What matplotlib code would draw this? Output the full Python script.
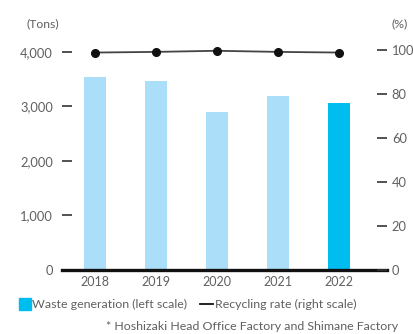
import numpy as np
import matplotlib.pyplot as plt

# Datos
anios = ['2018', '2019', '2020', '2021', '2022']
residuos = [3540, 3470, 2900, 3190, 3060]          # t
reciclaje = [98.8, 99.1, 99.6, 99.1, 98.8]         # %

AZUL_CLARO = '#abdff9'
AZUL = '#00bdf0'
GRIS = '#606060'

plt.rcParams['font.family'] = ['Lato', 'DejaVu Sans']

fig = plt.figure(figsize=(4.13, 3.34), dpi=100)
ax = fig.add_axes([62 / 413, 1 - 270 / 334, 325 / 413, 230 / 334])

x = np.arange(len(anios))
colores = [AZUL_CLARO] * (len(anios) - 1) + [AZUL]
ax.bar(x, residuos, width=0.36, color=colores, zorder=2)

ax.set_xlim(-0.54, 4.79)
ax.set_ylim(0, 4220)
ax.set_yticks([0, 1000, 2000, 3000, 4000])
ax.set_yticklabels(['0', '1,000', '2,000', '3,000', '4,000'])
ax.set_xticks(x)
ax.set_xticklabels(anios)

for s in ['top', 'left', 'right']:
    ax.spines[s].set_visible(False)
ax.spines['bottom'].set_linewidth(2.4)
ax.spines['bottom'].set_color('#111111')
ax.spines['bottom'].set_zorder(5)

ax.tick_params(axis='y', direction='in', length=7.2, width=1.2, color='#333333',
               pad=6.5, labelsize=9.3, labelcolor=GRIS)
ax.tick_params(axis='x', length=0, pad=4, labelsize=9, labelcolor=GRIS)

# Eje derecho: tasa de reciclaje
ax2 = ax.twinx()
ax2.plot(x, reciclaje, color='#444444', lw=1.3, marker='o', ms=5.5,
         mfc='#111111', mec='#111111', zorder=3)
ax2.set_ylim(0, 104.5)
ax2.set_yticks([0, 20, 40, 60, 80, 100])
for s in ['top', 'left', 'right', 'bottom']:
    ax2.spines[s].set_visible(False)
ax2.tick_params(axis='y', direction='in', length=7.2, width=1.2, color='#333333',
                pad=3.5, labelsize=9.3, labelcolor=GRIS)

fig.text(26 / 413, 1 - 24 / 334, '(Tons)', fontsize=8.8, color=GRIS, va='center', ha='left')
fig.text(391 / 413, 1 - 24 / 334, '(%)', fontsize=8.8, color=GRIS, va='center', ha='left')

# Leyenda
fig.patches.append(plt.Rectangle((19 / 413, 1 - 310 / 334), 12 / 413, 12 / 334,
                                 transform=fig.transFigure, color=AZUL, figure=fig))
fig.text(32 / 413, 1 - 304 / 334, 'Waste generation (left scale)', fontsize=8.9,
         color=GRIS, va='center', ha='left')
fig.lines.append(plt.Line2D([200 / 413, 213 / 413], [1 - 304 / 334, 1 - 304 / 334],
                            transform=fig.transFigure, color='#111111', lw=1.3))
fig.text(215 / 413, 1 - 304 / 334, 'Recycling rate (right scale)', fontsize=8.9,
         color=GRIS, va='center', ha='left')
fig.text(398 / 413, 1 - 326 / 334, '* Hoshizaki Head Office Factory and Shimane Factory',
         fontsize=8.9, color=GRIS, va='center', ha='right')

fig.savefig('out.png', dpi=100)
